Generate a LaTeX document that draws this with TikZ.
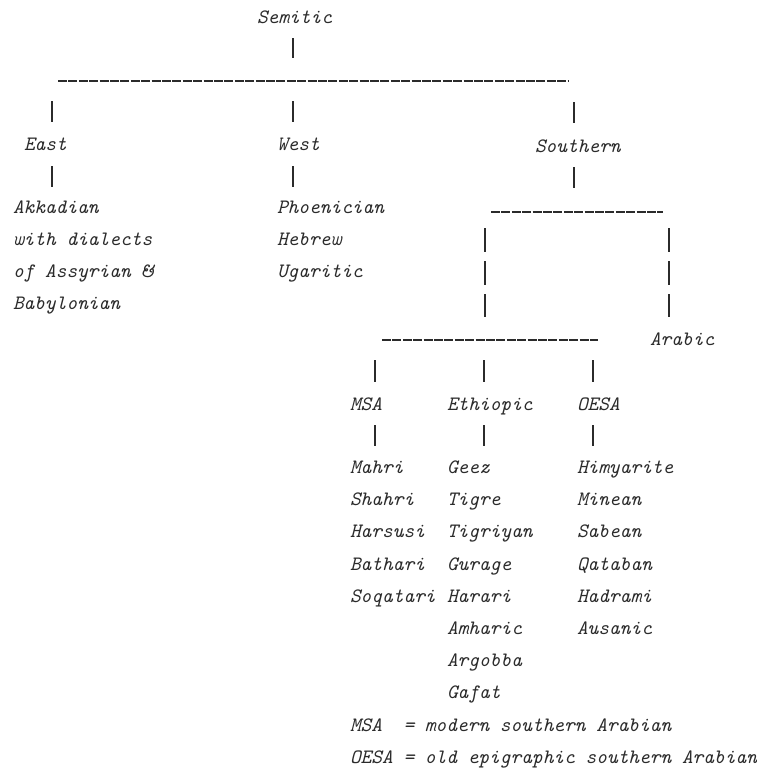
\documentclass[tikz,border=0pt]{standalone}
\definecolor{ink}{HTML}{2B2B2B}
\tikzset{
  lbl/.style={anchor=base west, inner sep=0pt, outer sep=0pt, text=ink,
              font=\fontsize{20.4}{32}\selectfont\ttfamily\itshape},
  bar/.style={draw=ink, line width=1.3pt},
  hline/.style={draw=ink, line width=1.1pt, dash pattern=on 9pt off 1.4pt},
}
\begin{document}
\begin{tikzpicture}[x=1pt,y=-1pt]
\useasboundingbox[fill=white] (0,0) rectangle (757,769);

% ---- labels ----
\node[lbl] (semitic) at (257,23) {Semitic};
\node[lbl] (east) at (24,150) {East};
\node[lbl] (west) at (277,150) {West};
\node[lbl] (southern) at (535,152) {Southern};

\node[lbl] (akk1) at (13,213) {Akkadian};
\node[lbl] (akk2) at (13,245) {with dialects};
\node[lbl] (akk3) at (13,277) {of Assyrian \&};
\node[lbl] (akk4) at (13,309) {Babylonian};

\node[lbl] (phoen) at (277,213) {Phoenician};
\node[lbl] (hebrew) at (277,245) {Hebrew};
\node[lbl] (ugar) at (277,277) {Ugaritic};

\node[lbl] (arabic) at (650,345) {Arabic};

\node[lbl] (msa) at (350,410) {MSA};
\node[lbl] (ethiopic) at (447,410) {Ethiopic};
\node[lbl] (oesa) at (577,410) {OESA};

\node[lbl] (m1) at (350,473) {Mahri};
\node[lbl] (m2) at (350,505) {Shahri};
\node[lbl] (m3) at (350,537) {Harsusi};
\node[lbl] (m4) at (350,570) {Bathari};
\node[lbl] (m5) at (350,602) {Soqatari};

\node[lbl] (e1) at (447,473) {Geez};
\node[lbl] (e2) at (447,505) {Tigre};
\node[lbl] (e3) at (447,537) {Tigriyan};
\node[lbl] (e4) at (447,570) {Gurage};
\node[lbl] (e5) at (447,602) {Harari};
\node[lbl] (e6) at (447,634) {Amharic};
\node[lbl] (e7) at (447,666) {Argobba};
\node[lbl] (e8) at (447,698) {Gafat};

\node[lbl] (o1) at (577,473) {Himyarite};
\node[lbl] (o2) at (577,505) {Minean};
\node[lbl] (o3) at (577,537) {Sabean};
\node[lbl] (o4) at (577,570) {Qataban};
\node[lbl] (o5) at (577,602) {Hadrami};
\node[lbl] (o6) at (577,634) {Ausanic};

\node[lbl] (leg1) at (350,731) {MSA~~= modern southern Arabian};
\node[lbl] (leg2) at (350,763) {OESA = old epigraphic southern Arabian};

% ---- connector coordinates ----
\coordinate (topL) at (58,81);
\coordinate (topR) at (568,81);
\coordinate (subL) at (491,212);
\coordinate (subR) at (663,212);
\coordinate (lowL) at (382,340);
\coordinate (lowR) at (598,340);

% ---- horizontal lines ----
\draw[hline] (topL) -- (topR);
\draw[hline] (subL) -- (subR);
\draw[hline] (lowL) -- (lowR);

% ---- vertical bars ----
\draw[bar] (293,38) -- (293,58);              % Semitic
\draw[bar] (52,101) -- (52,122);              % to East
\draw[bar] (293,101) -- (293,122);            % to West
\draw[bar] (574,102) -- (574,123);            % to Southern
\draw[bar] (52,166) -- (52,187);              % East down
\draw[bar] (293,166) -- (293,187);            % West down
\draw[bar] (574,167) -- (574,188);            % Southern down

\foreach \x in {485,669}{
  \draw[bar] (\x,228) -- (\x,252);
  \draw[bar] (\x,261) -- (\x,285);
  \draw[bar] (\x,294) -- (\x,317);
}

\foreach \x in {375,484,593}{
  \draw[bar] (\x,360) -- (\x,382);
  \draw[bar] (\x,425) -- (\x,446);
}
\end{tikzpicture}
\end{document}
